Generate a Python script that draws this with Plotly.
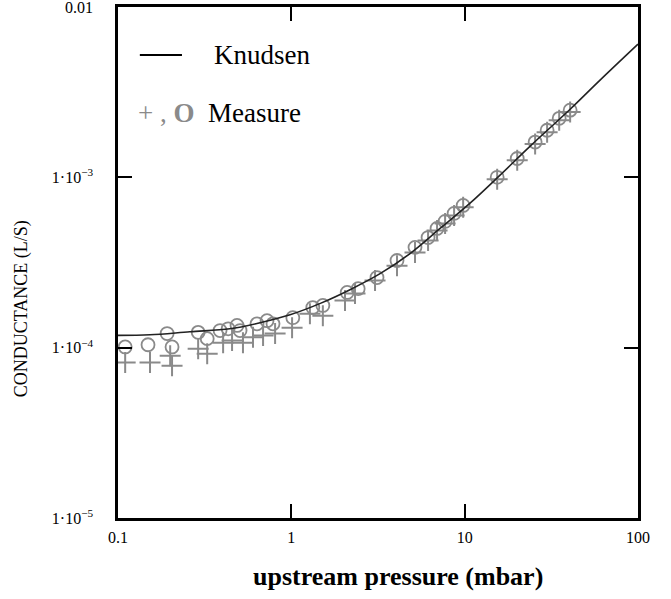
import plotly.graph_objects as go

# Knudsen model curve
knudsen_p = [0.1, 0.153, 0.26, 0.442, 0.659, 0.983, 1.47, 2.18, 3.25, 4.84, 7.21, 10.7, 16.0, 23.8, 40.6, 60.4, 100]
knudsen_c = [1.18e-4, 1.19e-4, 1.24e-4, 1.29e-4, 1.40e-4, 1.56e-4, 1.82e-4, 2.19e-4, 2.72e-4, 3.57e-4,
             5.01e-4, 7.03e-4, 1.03e-3, 1.52e-3, 2.51e-3, 3.72e-3, 6.05e-3]

# Measured points, circles
circ_p = [0.110, 0.149, 0.192, 0.205, 0.290, 0.327, 0.388, 0.432, 0.486, 0.506, 0.634, 0.724, 0.784,
          1.02, 1.33, 1.52, 2.10, 2.43, 3.12, 4.07, 5.17, 6.15, 6.93, 7.71, 8.69, 9.80,
          15.4, 20.1, 25.5, 29.9, 35.1, 40.6]
circ_c = [1.01e-4, 1.04e-4, 1.21e-4, 1.01e-4, 1.23e-4, 1.13e-4, 1.26e-4, 1.29e-4, 1.35e-4, 1.26e-4,
          1.38e-4, 1.44e-4, 1.38e-4, 1.50e-4, 1.72e-4, 1.77e-4, 2.11e-4, 2.22e-4, 2.58e-4, 3.25e-4,
          3.88e-4, 4.43e-4, 5.01e-4, 5.51e-4, 6.14e-4, 6.84e-4, 1.00e-3, 1.29e-3, 1.61e-3, 1.89e-3,
          2.22e-3, 2.48e-3]

# Measured points, crosses
cross_p = [0.110, 0.153, 0.200, 0.205, 0.290, 0.327, 0.404, 0.455, 0.526, 0.601, 0.687, 0.806,
           1.01, 1.28, 1.52, 2.04, 2.33, 3.04, 4.07, 5.17, 6.15, 6.93, 7.71, 8.69, 9.80,
           15.4, 20.1, 25.5, 29.9, 35.1, 40.6]
cross_c = [8.17e-5, 8.17e-5, 8.97e-5, 7.84e-5, 9.87e-5, 9.22e-5, 1.07e-4, 1.10e-4, 1.07e-4, 1.15e-4,
           1.18e-4, 1.21e-4, 1.31e-4, 1.58e-4, 1.54e-4, 1.89e-4, 2.08e-4, 2.48e-4, 3.03e-4, 3.62e-4,
           4.26e-4, 4.88e-4, 5.36e-4, 5.97e-4, 6.67e-4, 0.973e-3, 1.26e-3, 1.57e-3, 1.84e-3,
           2.16e-3, 2.42e-3]

x_tickvals = [0.1, 1, 10, 100]
x_ticktext = ["0.1", "1", "10", "100"]
y_tickvals = [1e-5, 1e-4, 1e-3, 1e-2]
y_ticktext = ["1·10<sup>−5</sup>", "1·10<sup>−4</sup>", "1·10<sup>−3</sup>", "0.01"]

GRAY = "#8a8a8a"
SERIF = "Liberation Serif"

fig = go.Figure()
fig.add_trace(go.Scatter(x=cross_p, y=cross_c, mode="markers",
                         marker=dict(symbol="cross-thin-open", size=15, color=GRAY,
                                     line=dict(color=GRAY, width=2))))
fig.add_trace(go.Scatter(x=circ_p, y=circ_c, mode="markers",
                         marker=dict(symbol="circle-open", size=13, color=GRAY,
                                     line=dict(color=GRAY, width=1.8))))
fig.add_trace(go.Scatter(x=knudsen_p, y=knudsen_c, mode="lines",
                         line=dict(color="#222", width=1.6, shape="spline")))

axis_common = dict(type="log", showline=True, linecolor="black", linewidth=2.5, mirror="ticks",
                   ticks="inside", ticklen=14, tickwidth=2, tickcolor="black", showgrid=False,
                   zeroline=False, automargin=False, ticklabeloverflow="allow",
                   tickfont=dict(family=SERIF, size=16, color="black"))

fig.update_layout(
    width=671, height=599, margin=dict(l=118, r=33, t=7, b=81, autoexpand=False),
    paper_bgcolor="white", plot_bgcolor="white", showlegend=False,
    xaxis=dict(range=[-1, 2], tickvals=x_tickvals, ticktext=x_ticktext, ticklabelstandoff=3, **axis_common),
    yaxis=dict(range=[-5, -2], tickvals=y_tickvals, ticktext=y_ticktext, ticklabelstandoff=19, **axis_common),
)

fig.add_annotation(x=0.538, y=-0.115, xref="paper", yref="paper", showarrow=False,
                   xanchor="center", yanchor="middle",
                   text="<b>upstream pressure (mbar)</b>", font=dict(family=SERIF, size=26, color="black"))
fig.add_annotation(x=-0.185, y=0.41, xref="paper", yref="paper", showarrow=False, textangle=-90,
                   xanchor="center", yanchor="middle",
                   text="CONDUCTANCE (L/S)", font=dict(family=SERIF, size=18, color="black"))

# legend drawn inside the plot
fig.add_shape(type="line", xref="paper", yref="paper", x0=0.042, x1=0.123, y0=0.906, y1=0.906,
              line=dict(color="black", width=2))
fig.add_annotation(x=0.181, y=0.906, xref="paper", yref="paper", showarrow=False,
                   xanchor="left", yanchor="middle",
                   text="Knudsen", font=dict(family=SERIF, size=27, color="black"))
fig.add_annotation(x=0.035, y=0.793, xref="paper", yref="paper", showarrow=False,
                   xanchor="left", yanchor="middle",
                   text="<span style='color:#8a8a8a'>+ , <b>O</b></span>  Measure",
                   font=dict(family=SERIF, size=27, color="black"))

fig.write_html("out.html", config={"displayModeBar": False},
               post_script="document.body.style.margin='0';")
